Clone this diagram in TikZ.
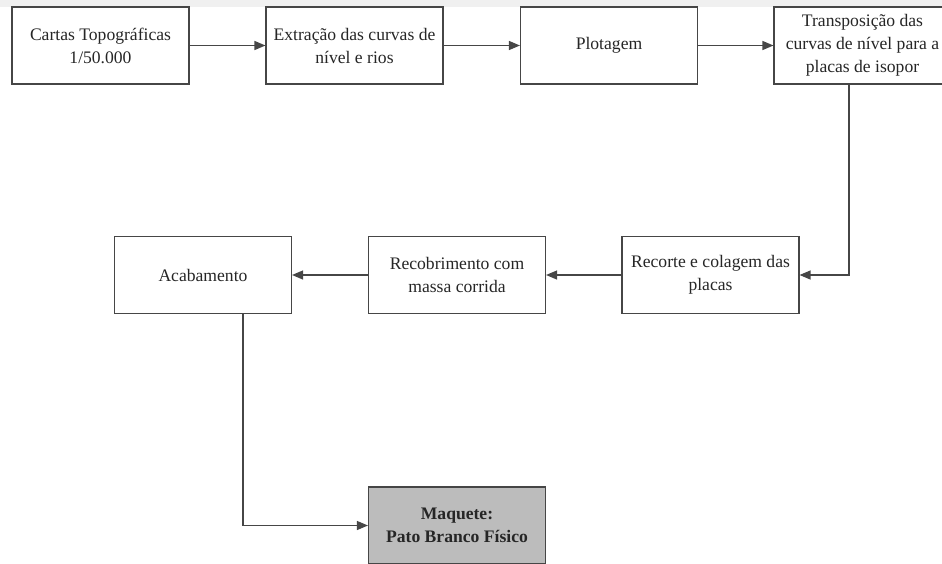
\documentclass[tikz,border=0pt]{standalone}
\usepackage{fontspec}
\setmainfont{Liberation Serif}
\usetikzlibrary{arrows.meta}
\definecolor{edge}{RGB}{70,70,70}
\definecolor{band}{RGB}{240,240,240}
\definecolor{finalfill}{RGB}{188,188,188}
\tikzset{
  stepbox/.style={draw=edge, line width=1.1pt, fill=white, minimum width=177pt, minimum height=77pt,
    align=center, inner sep=1pt, font=\fontsize{17.6}{23}\selectfont, text=black!85},
  finalbox/.style={stepbox, fill=finalfill, font=\fontsize{17.6}{23}\selectfont\bfseries},
  conn/.style={draw=edge, line width=1.2pt, -{Triangle[length=11pt,width=9pt]}}
}
\begin{document}
\begin{tikzpicture}[x=1pt,y=-1pt]
\useasboundingbox (0,0) rectangle (942,563);
\clip (0,0) rectangle (942,563);
\fill[band] (0,0) rectangle (942,7);
\node[stepbox] (b1) at (100.5,45.5) {Cartas Topográficas\\1/50.000};
\node[stepbox] (b2) at (354.5,45.5) {Extração das curvas de\\nível e rios};
\node[stepbox] (b3) at (609,45.5) {Plotagem};
\node[stepbox] (b4) at (862.5,45.5) {Transposição das\\curvas de nível para a\\placas de isopor};
\node[stepbox] (b5) at (710.5,275) {Recorte e colagem das\\placas};
\node[stepbox] (b6) at (457,275) {Recobrimento com\\massa corrida};
\node[stepbox] (b7) at (203,275) {Acabamento};
\node[finalbox] (b8) at (457,525.5) {Maquete:\\Pato Branco Físico};
\coordinate (c1) at (849,275);
\coordinate (c2) at (243,525.5);
\draw[conn] (b1) -- (b2);
\draw[conn] (b2) -- (b3);
\draw[conn] (b3) -- (b4);
\draw[conn] (b4.south -| c1) -- (c1) -- (b5.east);
\draw[conn] (b5) -- (b6);
\draw[conn] (b6) -- (b7);
\draw[conn] (b7.south -| c2) -- (c2) -- (b8.west);
\end{tikzpicture}
\end{document}
